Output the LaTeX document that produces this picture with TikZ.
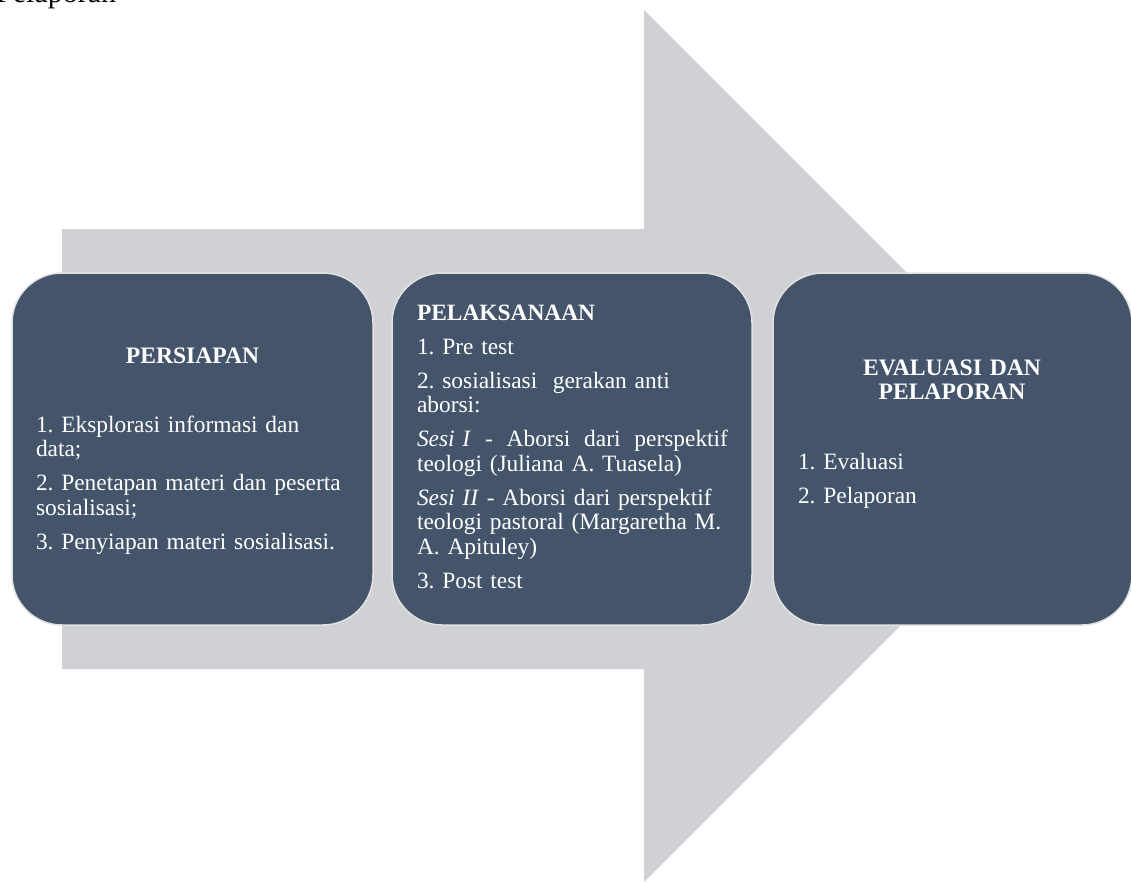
\documentclass[tikz,border=0pt]{standalone}
\usepackage{fontspec}
\setmainfont{Liberation Serif}
\frenchspacing
\definecolor{arrowgray}{HTML}{D0D1D5}
\definecolor{boxfill}{HTML}{44546A}
\definecolor{boxline}{HTML}{E2E2E2}
\newcommand{\jsp}{\hfil\ }
\begin{document}
\begin{tikzpicture}[x=1pt,y=-1pt,
  stagebox/.style={rectangle, rounded corners=50pt, fill=boxfill, draw=boxline, line width=1.5pt, inner sep=0pt},
  txt/.style={inner sep=0pt, outer sep=0pt, text=white, font=\fontsize{23.4}{24.5}\selectfont\frenchspacing, align=left},
  ttl/.style={inner sep=0pt, outer sep=0pt, text=white, font=\fontsize{23.6}{24.5}\selectfont\bfseries, align=center}]
\useasboundingbox (0,0) rectangle (1131,883);
% cut-off text at top
\node[inner sep=0pt, anchor=base west, font=\fontsize{30}{32}\selectfont] (top) at (-4,2.5) {Pelaporan};
% big arrow
\fill[arrowgray] (62,229) -- (644,229) -- (644,10) -- (1080,446) -- (644,882) -- (644,669) -- (62,669) -- cycle;
% boxes
\node[stagebox, minimum width=361pt, minimum height=352pt] (b1) at (192.5,449) {};
\node[stagebox, minimum width=360pt, minimum height=352pt] (b2) at (572,449) {};
\node[stagebox, minimum width=359pt, minimum height=352pt] (b3) at (952.5,449) {};
% box 1
\node[ttl, anchor=base] (t1) at (192.5,363) {PERSIAPAN};
\node[txt, anchor=base west, text width=325pt] (l1) at (36,432) {1. Eksplorasi informasi dan\\ data;\\[9.5pt]
2. Penetapan materi dan peserta\\ sosialisasi;\\[9.5pt]
3. Penyiapan materi sosialisasi.};
% box 2
\node[txt, anchor=base west, text width=330pt] (l2) at (417,320) {\textbf{PELAKSANAAN}\\[9.5pt]
1. Pre test\\[9.5pt]
2. sosialisasi\ \ gerakan anti\\ aborsi:\\[9.5pt]
\leavevmode\hbox to 311pt{\textit{Sesi}\ \textit{I}\jsp-\jsp Aborsi\jsp dari\jsp perspektif}\\ teologi (Juliana A. Tuasela)\\[9.5pt]
\textit{Sesi II} - Aborsi dari perspektif\\ teologi pastoral (Margaretha M.\\ A. Apituley)\\[9.5pt]
3. Post test};
% box 3
\node[ttl, anchor=base, text width=300pt] (t3) at (952,375) {EVALUASI DAN\\PELAPORAN};
\node[txt, anchor=base west, text width=300pt] (l3) at (798,469) {1. Evaluasi\\[9.5pt] 2. Pelaporan};
\end{tikzpicture}
\end{document}
